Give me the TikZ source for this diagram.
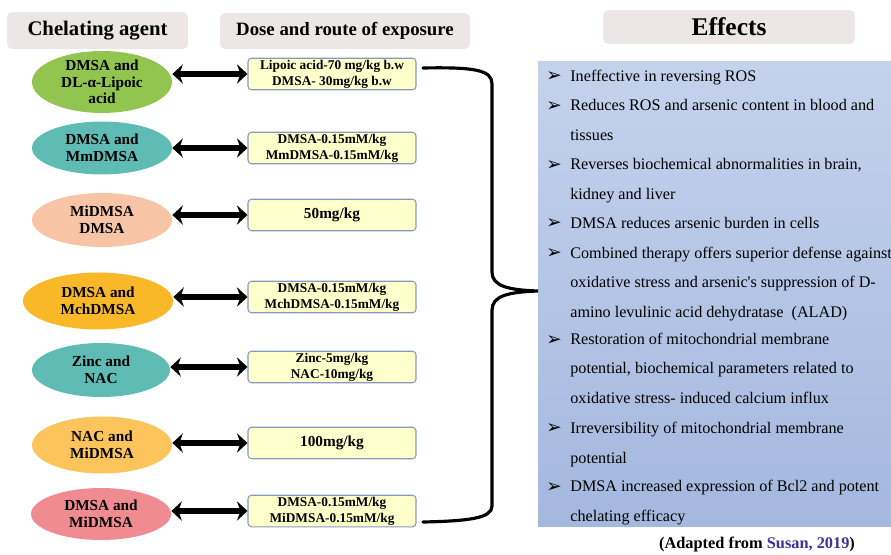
\documentclass[tikz,border=0pt]{standalone}
\usepackage{fontspec}
\setmainfont{Liberation Serif}
\newfontfamily\symfont{DejaVu Sans}
\usetikzlibrary{arrows.meta,positioning,shapes.geometric}
\definecolor{headgray}{RGB}{236,230,230}
\definecolor{doseyellow}{RGB}{255,255,204}
\definecolor{doseedge}{RGB}{138,152,190}
\definecolor{paneltop}{RGB}{196,210,236}
\definecolor{panelbot}{RGB}{164,183,222}
\definecolor{agentgreen}{RGB}{146,196,80}
\definecolor{agentteal}{RGB}{94,188,180}
\definecolor{agentpeach}{RGB}{248,196,166}
\definecolor{agentorange}{RGB}{248,184,40}
\definecolor{agentlight}{RGB}{252,196,90}
\definecolor{agentpink}{RGB}{240,140,145}
\definecolor{citeblue}{RGB}{60,50,150}
\tikzset{
  agent/.style={ellipse, minimum width=2.8cm, minimum height=1.06cm, inner sep=0pt,
    align=center, font=\fontsize{8.7}{9.4}\selectfont\bfseries},
  dose/.style={draw=doseedge, fill=doseyellow, rounded corners=2pt, line width=0.6pt,
    minimum width=3.36cm, minimum height=0.63cm, inner sep=1pt, align=center,
    font=\fontsize{7.6}{9}\selectfont\bfseries},
  heading/.style={fill=headgray, rounded corners=3pt, inner sep=0pt},
  link/.style={{Stealth[length=6pt,width=11pt,inset=2pt]}-{Stealth[length=6pt,width=11pt,inset=2pt]}, line width=3.4pt},
  effect/.style={anchor=base west, align=left, inner sep=0pt, font=\fontsize{9.2}{16.67}\selectfont},
  bullet/.style={anchor=base west, inner sep=0pt, font=\symfont\fontsize{10.5}{10.5}\selectfont},
  brace/.style={line width=1.8pt, line cap=round}
}
\begin{document}
\begin{tikzpicture}[x=0.02cm,y=-0.02cm]
    \useasboundingbox (0,0) rectangle (891,554);
    \node[heading, minimum width=3.62cm, minimum height=0.74cm, font=\fontsize{11.8}{12}\selectfont\bfseries] (hagent) at (97.5,30.5) {Chelating agent};
    \node[heading, minimum width=5cm, minimum height=0.72cm, font=\fontsize{10.7}{12}\selectfont\bfseries] (hdose) at (345,31) {Dose and route of exposure};
    \node[heading, minimum width=5.04cm, minimum height=0.68cm, font=\fontsize{14.5}{15}\selectfont\bfseries] (heffect) at (729,27) {Effects};

    \node[agent, fill=agentgreen] (agent1) at (102,82) {DMSA and\\ DL-α-Lipoic\\ acid};
    \node[agent, fill=agentteal] (agent2) at (102,148) {DMSA and\\ MmDMSA};
    \node[agent, fill=agentpeach, minimum height=1.08cm] (agent3) at (102,220) {MiDMSA\\ DMSA};
    \node[agent, fill=agentorange, minimum width=3cm, minimum height=1.14cm] (agent4) at (98,301) {DMSA and\\ MchDMSA};
    \node[agent, fill=agentteal, minimum width=2.76cm, minimum height=1.08cm] (agent5) at (101,370) {Zinc and\\ NAC};
    \node[agent, fill=agentlight, minimum height=1.14cm] (agent6) at (102,445) {NAC and\\ MiDMSA};
    \node[agent, fill=agentpink, minimum height=1.04cm] (agent7) at (101,514) {DMSA and\\ MiDMSA};

    \node[dose] (dose1) at (332,74) {Lipoic acid-70 mg/kg b.w\\ DMSA- 30mg/kg b.w};
    \node[dose] (dose2) at (332,148) {DMSA-0.15mM/kg\\ MmDMSA-0.15mM/kg};
    \node[dose, font=\fontsize{8.7}{9}\selectfont\bfseries] (dose3) at (332,215) {50mg/kg};
    \node[dose] (dose4) at (332,297) {DMSA-0.15mM/kg\\ MchDMSA-0.15mM/kg};
    \node[dose] (dose5) at (332,367) {Zinc-5mg/kg\\ NAC-10mg/kg};
    \node[dose, font=\fontsize{8.7}{9}\selectfont\bfseries] (dose6) at (332,443) {100mg/kg};
    \node[dose] (dose7) at (332,511) {DMSA-0.15mM/kg\\ MiDMSA-0.15mM/kg};

    \foreach \i in {1,...,7}
      \draw[link] (dose\i.west -| agent\i.east) -- (dose\i.west);

    \node[top color=paneltop, bottom color=panelbot, minimum width=7.06cm, minimum height=9.32cm, inner sep=0pt] (panel) at (714.5,294) {};

    \coordinate (brtop) at (423,68);
    \coordinate (brtip) at (538,291);
    \coordinate (brbot) at (423,522);
    \draw[brace] (brtop) .. controls (475,67) and (492,70) .. (492,84) -- (492,272)
      .. controls (492,286) and (508,290) .. (brtip)
      .. controls (508,292) and (492,296) .. (492,310) -- (492,506)
      .. controls (492,518) and (470,521) .. (brbot);

    \node[bullet] (b1) at (546,82) {➢};
    \node[effect] (e1) at (570,82) {Ineffective in reversing ROS};
    \node[bullet] (b2) at (546,112) {➢};
    \node[effect] (e2) at (570,140) {Reduces ROS and arsenic content in blood and\\ tissues};
    \node[bullet] (b3) at (546,170) {➢};
    \node[effect] (e3) at (570,199) {Reverses biochemical abnormalities in brain,\\ kidney and liver};
    \node[bullet] (b4) at (546,228) {➢};
    \node[effect] (e4) at (570,228) {DMSA reduces arsenic burden in cells};
    \node[bullet] (b5) at (546,258) {➢};
    \node[effect] (e5) at (570,317) {Combined therapy offers superior defense against\\ oxidative stress and arsenic\textquotesingle s suppression of D-\\ amino levulinic acid dehydratase \ (ALAD)};
    \node[bullet] (b6) at (546,345) {➢};
    \node[effect] (e6) at (570,403) {Restoration of mitochondrial membrane\\ potential, biochemical parameters related to\\ oxidative stress- induced calcium influx};
    \node[bullet] (b7) at (546,433) {➢};
    \node[effect] (e7) at (570,463) {Irreversibility of mitochondrial membrane\\ potential};
    \node[bullet] (b8) at (546,492) {➢};
    \node[effect] (e8) at (570,521) {DMSA increased expression of Bcl2 and potent\\ chelating efficacy};

    \node[anchor=base, inner sep=0pt, font=\fontsize{9.3}{10}\selectfont\bfseries] (credit) at (757,548) {(Adapted from \textcolor{citeblue}{Susan, 2019})};
\end{tikzpicture}
\end{document}
